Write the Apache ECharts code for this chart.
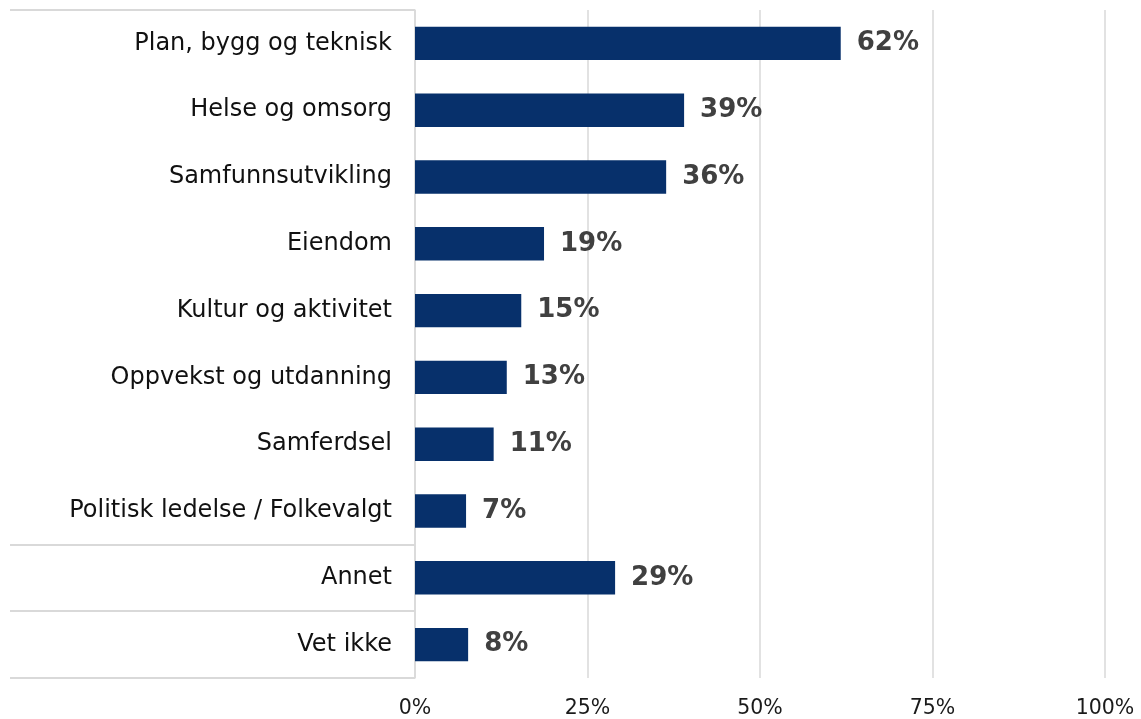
<!DOCTYPE html>
<html>
<head>
<meta charset="utf-8">
<script src="https://cdn.jsdelivr.net/npm/echarts@6/dist/echarts.min.js"></script>
<style>
  html, body { margin: 0; padding: 0; background: #fff; }
  #chart { width: 1141px; height: 719px; }
</style>
</head>
<body>
<div id="chart"></div>
<script>
var categories = [
  'Plan, bygg og teknisk',
  'Helse og omsorg',
  'Samfunnsutvikling',
  'Eiendom',
  'Kultur og aktivitet',
  'Oppvekst og utdanning',
  'Samferdsel',
  'Politisk ledelse / Folkevalgt',
  'Annet',
  'Vet ikke'
];
var values = [61.7, 39, 36.4, 18.7, 15.4, 13.3, 11.4, 7.4, 29, 7.7];
var xTicks = [0, 25, 50, 75, 100];
// group boundaries (in category bands, from top)
var groupBreaks = [0, 8, 9, 10];

var myChart = echarts.init(document.getElementById('chart'));
var font = 'DejaVu Sans, Verdana, sans-serif';

var option = {
  animation: false,
  grid: { left: 415, right: 36, top: 10, bottom: 36, containLabel: false },
  xAxis: {
    type: 'value',
    min: 0,
    max: 100,
    interval: 25,
    axisLine: { show: false },
    axisTick: { show: false },
    axisLabel: {
      margin: 20,
      fontFamily: font,
      fontSize: 20.5,
      color: '#1a1a1a',
      formatter: function (v) { return xTicks.indexOf(v) >= 0 ? v + '%' : ''; }
    },
    splitLine: { lineStyle: { color: '#d9d9d9', width: 1.5 } }
  },
  yAxis: [
    {
      type: 'category',
      inverse: true,
      data: categories,
      axisLine: { show: true, lineStyle: { color: '#d9d9d9', width: 1.5 } },
      axisTick: { show: false },
      axisLabel: {
        margin: 23,
        fontFamily: font,
        fontSize: 24,
        color: '#111',
        padding: [6, 0, 0, 0]
      }
    },
    {
      type: 'value',
      position: 'left',
      inverse: true,
      min: 0,
      max: categories.length,
      axisLine: { show: false },
      axisLabel: { show: false },
      splitLine: { show: false },
      axisTick: {
        show: true,
        length: 405,
        customValues: groupBreaks,
        lineStyle: { color: '#d9d9d9', width: 2 }
      }
    }
  ],
  series: [
    {
      type: 'bar',
      yAxisIndex: 0,
      data: values,
      barWidth: '50%',
      itemStyle: { color: '#07306b' },
      label: {
        show: true,
        position: 'right',
        distance: 16,
        fontFamily: font,
        fontSize: 26,
        fontWeight: 'bold',
        color: '#404040',
        formatter: function (p) { return Math.round(p.value) + '%'; }
      }
    }
  ]
};
myChart.setOption(option);
window.addEventListener('resize', function () { myChart.resize(); });
</script>
</body>
</html>
